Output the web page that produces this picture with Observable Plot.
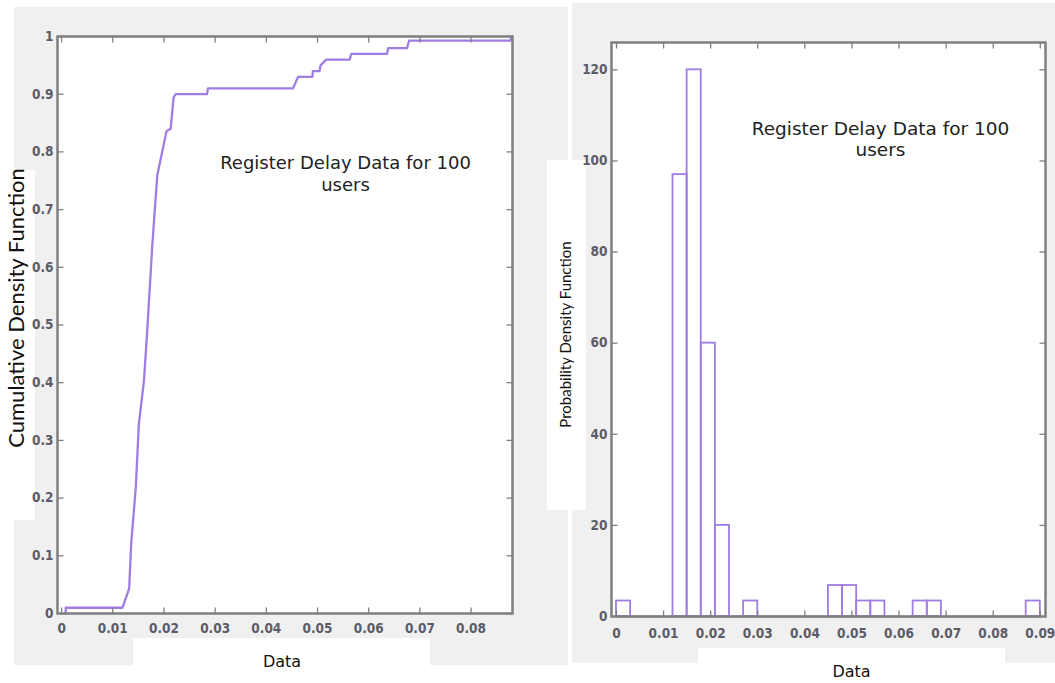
<!DOCTYPE html>
<html><head><meta charset="utf-8">
<script src="https://cdn.jsdelivr.net/npm/d3@7"></script>
<script src="https://cdn.jsdelivr.net/npm/@observablehq/plot@0.6"></script>
<style>
body{margin:0;background:#fff;}
#wrap{position:relative;width:1055px;height:683px;overflow:hidden;}
.bg{position:absolute;}
.gray{background:#f0f0f0;}
.white{background:#fff;}
#wrap svg{position:absolute;top:0;overflow:visible;background:transparent;}
</style></head><body><div id="wrap">
<div class="bg gray" style="left:14px;top:7px;width:554px;height:658px"></div>
<div class="bg gray" style="left:572px;top:3px;width:483px;height:660px"></div>
<div class="bg white" style="left:0;top:170px;width:35px;height:350px"></div>
<div class="bg white" style="left:133px;top:638px;width:297px;height:45px"></div>
<div class="bg white" style="left:547px;top:160px;width:39px;height:350px"></div>
<div class="bg white" style="left:698px;top:648px;width:307px;height:35px"></div>
</div>
<script>
// ---- data ----
const cdfX = [0.0008, 0.0008, 0.0119, 0.0132, 0.0136, 0.0145, 0.0151, 0.0161, 0.0167, 0.0177, 0.0182, 0.0187, 0.0197, 0.0205, 0.0213, 0.0219, 0.0223, 0.0284, 0.0286, 0.0452, 0.0462, 0.0490, 0.0491, 0.0504, 0.0506, 0.0517, 0.0563, 0.0566, 0.0636, 0.0638, 0.0675, 0.0679, 0.0877, 0.0880];
const cdfY = [0, 0.01, 0.01, 0.043, 0.121, 0.219, 0.329, 0.404, 0.485, 0.635, 0.698, 0.76, 0.802, 0.836, 0.84, 0.895, 0.90, 0.90, 0.91, 0.91, 0.93, 0.93, 0.94, 0.94, 0.95, 0.96, 0.96, 0.97, 0.97, 0.98, 0.98, 0.993, 0.993, 1.0];
const binX1 = [0.000, 0.012, 0.015, 0.018, 0.021, 0.027, 0.045, 0.048, 0.051, 0.054, 0.063, 0.066, 0.087];
const binX2 = [0.003, 0.015, 0.018, 0.021, 0.024, 0.030, 0.048, 0.051, 0.054, 0.057, 0.066, 0.069, 0.090];
const density = [3.4, 97, 120, 60, 20, 3.4, 6.8, 6.8, 3.4, 3.4, 3.4, 3.4, 3.4];
const cdfXTicks = [0, 0.01, 0.02, 0.03, 0.04, 0.05, 0.06, 0.07, 0.08];
const cdfYTicks = [0, 0.1, 0.2, 0.3, 0.4, 0.5, 0.6, 0.7, 0.8, 0.9, 1];
const pdfXTicks = [0, 0.01, 0.02, 0.03, 0.04, 0.05, 0.06, 0.07, 0.08, 0.09];
const pdfYTicks = [0, 20, 40, 60, 80, 100, 120];
const annotation = "Register Delay Data for 100\nusers";
const xLabel = "Data";
const cdfLabel = "Cumulative Density Function";
const pdfLabel = "Probability Density Function";

// ---- style ----
const purple = "#9f7de2";
const axisGray = "#7f7f7f";
const tickFont = "'Liberation Sans Narrow','DejaVu Sans Condensed',sans-serif";
const fmt = d3.format("~g");
const tickShape = (tx, ty) => ({draw(ctx) { ctx.moveTo(0, 0); ctx.lineTo(tx, ty); }});

function axes(xTicks, yTicks, xPad, yPad) {
  const tk = {stroke: axisGray, fill: "none", strokeWidth: 1.3};
  return [
    Plot.dot(xTicks, {x: d => d, frameAnchor: "bottom", symbol: tickShape(0, -6), ...tk}),
    Plot.dot(xTicks, {x: d => d, frameAnchor: "top", symbol: tickShape(0, 6), ...tk}),
    Plot.dot(yTicks, {y: d => d, frameAnchor: "left", symbol: tickShape(6, 0), ...tk}),
    Plot.dot(yTicks, {y: d => d, frameAnchor: "right", symbol: tickShape(-6, 0), ...tk}),
    Plot.axisX({ticks: xTicks, anchor: "bottom", tickSize: 0, tickPadding: xPad, tickFormat: fmt, label: null,
      fontSize: 13.5, fontWeight: "bold", fill: "#5c5c68", fontFamily: tickFont}),
    Plot.axisY({ticks: yTicks, anchor: "left", tickSize: 0, tickPadding: yPad, tickFormat: fmt, label: null,
      fontSize: 13.5, fontWeight: "bold", fill: "#5c5c68", fontFamily: tickFont})
  ];
}

const cdfData = cdfX.map((x, i) => ({x, y: cdfY[i]}));
const bins = binX1.map((x1, i) => ({x1, x2: binX2[i], d: density[i]}));

const left = Plot.plot({
  width: 540, height: 683,
  marginLeft: 57, marginRight: 28, marginTop: 36, marginBottom: 70,
  x: {domain: [-0.0008, 0.0881]},
  y: {domain: [0, 1]},
  style: {background: "transparent", overflow: "visible"},
  marks: [
    Plot.frame({fill: "white", stroke: "none"}),
    Plot.line(cdfData, {x: "x", y: "y", stroke: purple, strokeWidth: 2.3}),
    ...axes(cdfXTicks, cdfYTicks, 10, 4),
    Plot.frame({stroke: axisGray, strokeWidth: 2.5}),
    Plot.text([annotation], {frameAnchor: "top-left", dx: 288, dy: 118, textAnchor: "middle", lineAnchor: "top",
      lineHeight: 1.17, fontSize: 18, fontFamily: "DejaVu Sans", fill: "#222"}),
    Plot.text([cdfLabel], {frameAnchor: "left", textAnchor: "middle", lineAnchor: "middle", rotate: -90, dx: -41, dy: -17,
      fontSize: 22, fontFamily: "Lato", fill: "#111"}),
    Plot.text([xLabel], {frameAnchor: "bottom", textAnchor: "middle", lineAnchor: "middle", dx: -3, dy: 48,
      fontSize: 16, fontFamily: "DejaVu Sans", fill: "#111"})
  ]
});
left.style.left = "0px";

const right = Plot.plot({
  width: 515, height: 683,
  marginLeft: 71, marginRight: 10, marginTop: 42, marginBottom: 67,
  x: {domain: [-0.00106, 0.0911]},
  y: {domain: [0, 126]},
  style: {background: "transparent", overflow: "visible"},
  marks: [
    Plot.frame({fill: "white", stroke: "none"}),
    Plot.ruleY([0], {x1: d3.min(binX1), x2: d3.max(binX2), stroke: purple, strokeWidth: 2}),
    Plot.rect(bins, {x1: "x1", x2: "x2", y1: 0, y2: "d", stroke: purple, fill: "none", strokeWidth: 1.8}),
    ...axes(pdfXTicks, pdfYTicks, 12, 4),
    Plot.frame({stroke: axisGray, strokeWidth: 2.5}),
    Plot.text([annotation], {frameAnchor: "top-left", dx: 269, dy: 77, textAnchor: "middle", lineAnchor: "top",
      lineHeight: 1.15, fontSize: 18.5, fontFamily: "DejaVu Sans", fill: "#222"}),
    Plot.text([pdfLabel], {frameAnchor: "left", textAnchor: "middle", lineAnchor: "middle", rotate: -90, dx: -45, dy: 5,
      fontSize: 15, fontFamily: "Lato", fill: "#111"}),
    Plot.text([xLabel], {frameAnchor: "bottom", textAnchor: "middle", lineAnchor: "middle", dx: 23, dy: 55,
      fontSize: 16, fontFamily: "DejaVu Sans", fill: "#111"})
  ]
});
right.style.left = "540px";

document.getElementById("wrap").append(left, right);
</script>
</body></html>
